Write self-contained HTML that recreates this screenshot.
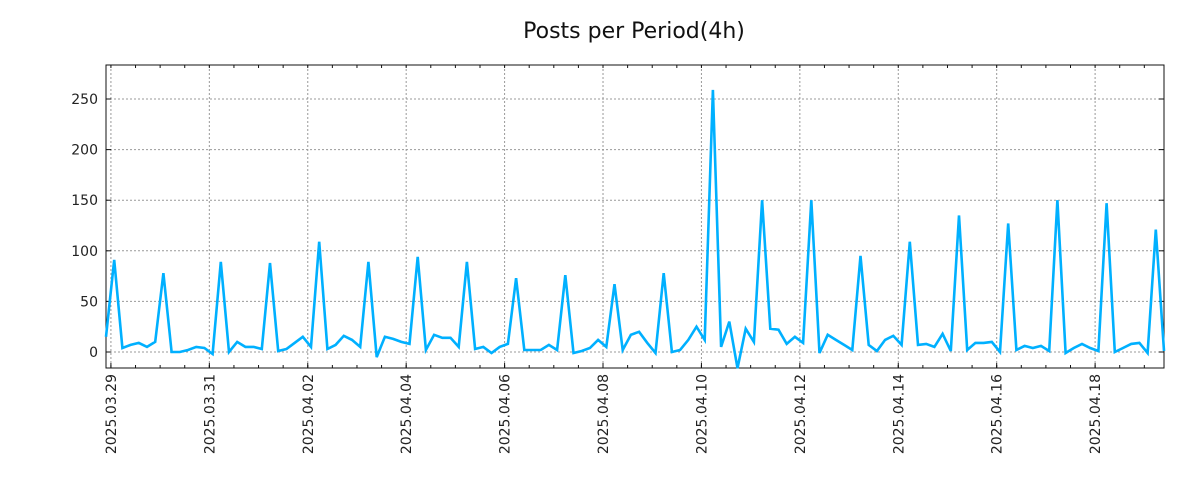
<!DOCTYPE html>
<html><head><meta charset="utf-8"><style>
html,body{margin:0;padding:0;background:#fff;}
svg{display:block;font-family:"DejaVu Sans","Liberation Sans",sans-serif;}
</style></head><body>
<svg id="chart" width="1200" height="500" viewBox="0 0 1200 500">
<text x="634" y="38" text-anchor="middle" font-size="22" fill="#111">Posts per Period(4h)</text>
<g id="grid"></g>
<g id="axes"></g>
<g id="series"></g>
</svg>
<script>
const startDayOffset = -0.1; // days relative to 2025.03.29 00:00
const stepDays = 1/6;
const postCounts = [15,91,4,7,9,5,10,78,0,0,2,5,4,-2,89,0,10,5,5,3,88,1,3,9,15,5,109,3,7,16,12,5,89,-5,15,13,10,8,94,2,17,14,14,5,
89,3,5,-1,5,8,73,2,2,2,7,2,76,-1,1,4,12,5,67,2,17,20,9,-1,78,0,2,12,25,12,259,5,30,-16,23,10,150,23,22,8,15,
9,150,-1,17,12,7,2,95,7,1,12,16,7,109,7,8,5,18,1,135,2,9,9,10,0,127,2,6,4,6,1,150,-1,4,8,4,1,147,0,4,8,9,-1,121,1];
const yTicks = [0,50,100,150,200,250];
const xTickLabels = ["2025.03.29","2025.03.31","2025.04.02","2025.04.04","2025.04.06","2025.04.08","2025.04.10","2025.04.12","2025.04.14","2025.04.16","2025.04.18"];
const xTickDays = [0,2,4,6,8,10,12,14,16,18,20];

const NS="http://www.w3.org/2000/svg";
const L=106,R=1164,T=65,B=368;
const dEnd=startDayOffset+(postCounts.length-1)*stepDays;
const yMin=-15.8,yMax=283.6;
function xs(d){return L+(d-startDayOffset)/(dEnd-startDayOffset)*(R-L);}
function ys(v){return B-(v-yMin)/(yMax-yMin)*(B-T);}
function mk(tag,attrs,parent){const e=document.createElementNS(NS,tag);for(const k in attrs)e.setAttribute(k,attrs[k]);parent.appendChild(e);return e;}
const grid=document.getElementById('grid'),axes=document.getElementById('axes'),series=document.getElementById('series');

yTicks.forEach(v=>{
  const y=ys(v);
  const g=mk('line',{x1:L,x2:R,y1:y,y2:y,stroke:'#999','stroke-width':1,'stroke-dasharray':'2,2'},grid);
  
  
  const t1=mk('line',{x1:L,x2:L+5,y1:y,y2:y,stroke:'#111'},axes);
  
  
  const t2=mk('line',{x1:R-5,x2:R,y1:y,y2:y,stroke:'#111'},axes);
  
  
  const lb=mk('text',{x:98,y:y+5,'text-anchor':'end','font-size':14,fill:'#222'},axes);
  lb.textContent=v;
  
  
});
for(let d=0;d<=dEnd;d+=0.5){
  const x=xs(d);
  const tb=mk('line',{x1:x,x2:x,y1:B,y2:B-3,stroke:'#111'},axes);
  
  
  const tt=mk('line',{x1:x,x2:x,y1:T,y2:T+3,stroke:'#111'},axes);
  
  
}
xTickDays.forEach((d,i)=>{
  const x=xs(d);
  const g=mk('line',{x1:x,x2:x,y1:T,y2:B,stroke:'#999','stroke-width':1,'stroke-dasharray':'2,2'},grid);
  
  
  const tk=mk('line',{x1:x,x2:x,y1:B,y2:B-5,stroke:'#111'},axes);
  
  
  const lb=mk('text',{x:0,y:0,'text-anchor':'end','font-size':14,fill:'#222',transform:`translate(${x+5},${B+6}) rotate(-90)`},axes);
  lb.textContent=xTickLabels[i];
  
  
});
const frame=mk('rect',{x:L,y:T,width:R-L,height:B-T,fill:'none',stroke:'#111','stroke-width':1},axes);


const pts=postCounts.map((v,i)=>xs(startDayOffset+i*stepDays).toFixed(1)+','+ys(v).toFixed(1)).join(' ');
const line=mk('polyline',{points:pts,fill:'none',stroke:'#00b0ff','stroke-width':2.6,'stroke-linejoin':'miter'},series);


</script>
</body></html>
